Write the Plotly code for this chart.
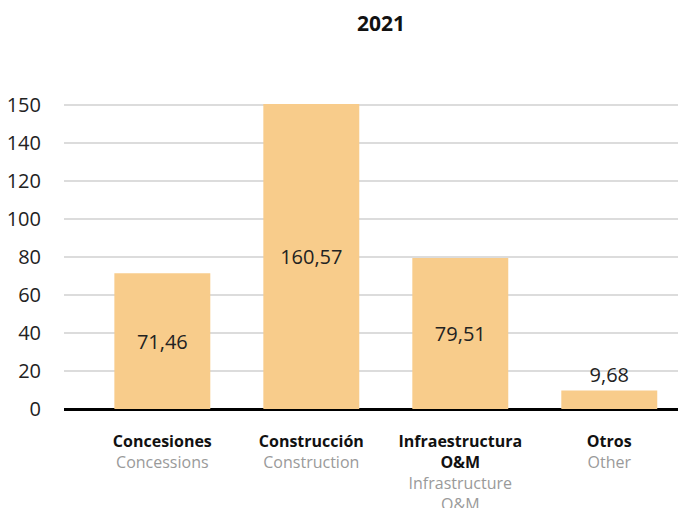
import plotly.graph_objects as go

categories_es = ["Concesiones", "Construcción", "Infraestructura<br>O&M", "Otros"]
categories_en = ["Concessions", "Construction", "Infrastructure<br>O&M", "Other"]
values = [71.46, 160.57, 79.51, 9.68]
y_tick_vals = [0, 20, 40, 60, 80, 100, 120, 140, 160]
y_tick_text = ["0", "20", "40", "60", "80", "100", "120", "140", "150"]
title_text = "2021"

FONT = "Open Sans"
BAR_COLOR = "#F8CC8B"

# the page body adds an 8px margin; the figure is sized to fill the rest
W, H = 678, 500

x_pos = list(range(len(values)))
tick_labels = [
    f"<b>{es}</b><br><span style='color:#9a9a9a'>{en}</span>"
    for es, en in zip(categories_es, categories_en)
]

fig = go.Figure(
    go.Bar(
        x=x_pos,
        y=values,
        width=0.644,
        marker=dict(color=BAR_COLOR, line=dict(width=0)),
        texttemplate="%{y:.2f}",
        textposition=["inside", "inside", "inside", "outside"],
        insidetextanchor="middle",
        textfont=dict(family=FONT, size=20, color="#222222"),
        outsidetextfont=dict(family=FONT, size=20, color="#222222"),
        cliponaxis=False,
        hoverinfo="skip",
    )
)

fig.update_layout(
    width=W,
    height=H,
    margin=dict(l=56, r=0, t=32, b=95),
    paper_bgcolor="white",
    plot_bgcolor="white",
    separators=",.",
    showlegend=False,
    font=dict(family=FONT, color="#222222"),
    title=dict(
        text=f"<b>{title_text}</b>",
        x=373 / W,
        xref="container",
        xanchor="center",
        y=1 - 16 / H,
        yref="container",
        yanchor="middle",
        font=dict(family=FONT, size=21, color="#111111"),
    ),
    xaxis=dict(
        range=[-0.66, 3.515],
        tickvals=x_pos,
        ticktext=tick_labels,
        showgrid=False,
        zeroline=False,
        showline=False,
        ticks="outside",
        ticklen=14,
        tickcolor="rgba(0,0,0,0)",
        tickfont=dict(family=FONT, size=16, color="#111111"),
        automargin=False,
        fixedrange=True,
    ),
    yaxis=dict(
        range=[-4 / 1.9, (401 - 32) / 1.9],
        tickvals=y_tick_vals,
        ticktext=y_tick_text,
        showgrid=True,
        gridcolor="#dcdcdc",
        gridwidth=1.5,
        zeroline=True,
        zerolinecolor="#000000",
        zerolinewidth=2.5,
        showline=False,
        ticks="outside",
        ticklen=18,
        tickcolor="rgba(0,0,0,0)",
        tickfont=dict(family=FONT, size=20, color="#222222"),
        automargin=False,
        fixedrange=True,
    ),
)

fig.write_html("out.html")
